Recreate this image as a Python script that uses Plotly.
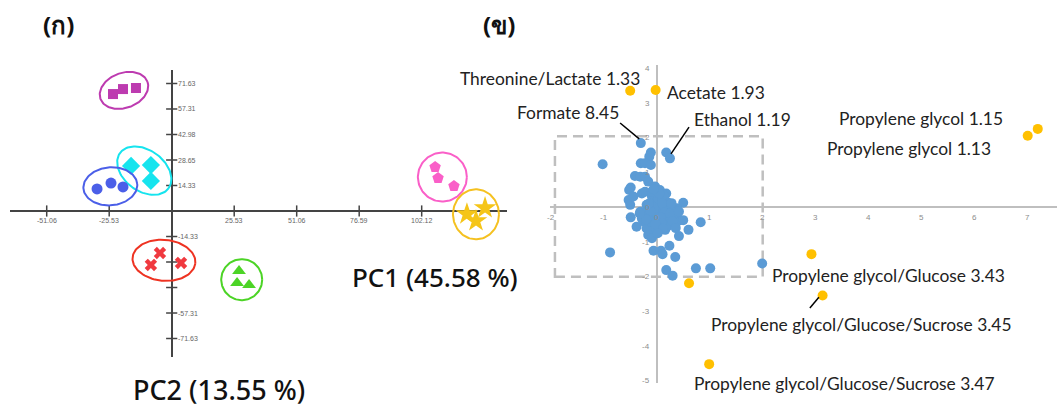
import numpy as np
import plotly.graph_objects as go

W, H = 1057, 412

# ---------------- (ก) PCA score plot: PC1 vs PC2, three replicates per group
score_magenta_x = [-23.98, -19.9, -14.6]
score_magenta_y = [65.7, 68.5, 69.1]
score_cyan_x = [-16.6, -8.5, -8.5]
score_cyan_y = [25.3, 25.8, 16.9]
score_blue_x = [-30.5, -24.8, -19.9]
score_blue_y = [12.4, 15.7, 13.5]
score_red_x = [-4.8, -8.5, 3.8]
score_red_y = [-23.6, -30.3, -29.2]
score_green_x = [27.5, 26.7, 31.6]
score_green_y = [-33.7, -40.4, -41.6]
score_pink_x = [107.6, 108.8, 115.3]
score_pink_y = [24.7, 18.5, 14.0]
score_yellow_x = [120.6, 128.0, 124.3]
score_yellow_y = [-1.7, 1.7, -5.6]

score_xticks = [-51.06, -25.53, 25.53, 51.06, 76.59, 102.12]
score_yticks = [71.63, 57.31, 42.98, 28.65, 14.33, -14.33, -28.65, -42.98, -57.31, -71.63]
score_ylabels = ["71.63", "57.31", "42.98", "28.65", "14.33", "-14.33", "", "", "-57.31", "-71.63"]

# ---------------- (ข) loading plot
load_blue_x = [-0.30, 0.18, 0.25, -0.11, -0.14, -1.02, -0.30, -0.22, -0.11, -0.41,
               -0.31, -0.22, -0.16, -0.49, -0.52, -0.53, -0.50, -0.44, -0.28, -0.22,
               -0.03, 0.06, 0.18, 0.00, -0.09, 0.09, -0.19, 0.50, -0.31, -0.49,
               -0.38, -0.25, -0.09, 0.06, 0.22, 0.31, 0.38, 0.44, 0.50, 0.35,
               0.25, 0.16, 0.00, -0.09, -0.19, -0.16, -0.09, 0.42, 0.60, 0.83,
               0.24, -0.06, 0.08, 0.11, 0.35, -0.88, 0.18, 0.74, 1.01, 0.30,
               -0.03, 0.06, -0.06, 0.13, 0.19, 0.28, 0.38, -0.13, 0.00, 0.13,
               0.06, 0.22, -0.22, -0.28, 0.00, -0.09, 0.13, 1.99, 0.03, 0.10,
               -0.05, 0.15, 0.25, 0.32, 0.08, -0.12, 0.20, 0.30, 0.10, -0.02,
               0.42, 0.28, -0.15, 0.05, -0.20, 0.12, 0.36, -0.06, 0.02, -0.32]
load_blue_y = [1.85, 1.58, 1.41, 1.58, 1.46, 1.24, 1.27, 1.27, 1.22, 0.90,
               0.88, 0.88, 0.74, 0.57, 0.50, 0.21, 0.07, 0.31, 0.40, 0.45,
               0.60, 0.50, 0.40, 0.40, 0.31, 0.26, 0.07, 0.13, -0.13, -0.29,
               -0.56, -0.41, -0.27, -0.22, -0.08, -0.08, -0.27, -0.37, -0.37, -0.51,
               -0.46, -0.65, -0.61, -0.65, -0.61, -0.80, -0.89, -0.83, -0.65, -0.43,
               -1.11, -1.25, -1.25, -1.35, -1.43, -1.30, -1.81, -1.76, -1.76, -1.97,
               0.02, -0.08, -0.17, 0.07, 0.16, 0.02, -0.03, -0.41, -0.37, -0.37,
               -0.51, -0.27, -0.17, -0.32, 0.16, 0.45, 0.36, -1.62, 0.25, 0.12,
               -0.05, -0.15, -0.18, -0.20, -0.30, -0.10, -0.55, -0.40, -0.45, -0.48,
               -0.12, 0.12, 0.10, 0.40, -0.35, -0.62, -0.60, 0.52, -0.75, -0.18]
load_orange_x = [-0.50, -0.02, 7.19, 7.00, 2.92, 3.13, 0.99, 0.61]
load_orange_y = [3.36, 3.38, 2.26, 2.06, -1.35, -2.54, -4.52, -2.19]

load_xticks = [-2, -1, 0, 1, 2, 3, 4, 5, 6, 7]
load_yticks = [4, 3, 2, 1, 0, -1, -2, -3, -4, -5]

# metabolite labels: text, left px, centre px
metab_labels = [
    ("Threonine/Lactate 1.33", 458, 78),
    ("Acetate 1.93", 665, 92),
    ("Formate 8.45", 515, 112),
    ("Ethanol 1.19", 692, 119),
    ("Propylene glycol 1.15", 837, 118),
    ("Propylene glycol 1.13", 825, 149),
    ("Propylene glycol/Glucose 3.43", 770, 275),
    ("Propylene glycol/Glucose/Sucrose 3.45", 709, 324),
    ("Propylene glycol/Glucose/Sucrose 3.47", 692, 383),
]

# ---------------- layout geometry (pixels)
L_X0, L_X1, L_Y0, L_Y1 = 10, 507, 70, 357      # score panel extents
L_OX, L_OY, L_SX, L_SY = 171.7, 211, 2.448, 1.78  # origin and px per unit
R_X0, R_X1, R_Y0, R_Y1 = 550, 1057, 65, 383
R_OX, R_OY, R_SX, R_SY = 656.7, 207.3, 53.0, 34.7

lx_range = [(L_X0 - L_OX) / L_SX, (L_X1 - L_OX) / L_SX]
ly_range = [(L_OY - L_Y1) / L_SY, (L_OY - L_Y0) / L_SY]
rx_range = [(R_X0 - R_OX) / R_SX, (R_X1 - R_OX) / R_SX]
ry_range = [(R_OY - R_Y1) / R_SY, (R_OY - R_Y0) / R_SY]


def ellipse(xs, ys, a_px, b_px, ang_deg, sx, sy):
    cx, cy = np.mean(xs), np.mean(ys)
    t = np.linspace(0, 2 * np.pi, 120)
    th = np.radians(ang_deg)
    u, v = a_px * np.cos(t), b_px * np.sin(t)
    X = u * np.cos(th) - v * np.sin(th)
    Y = u * np.sin(th) + v * np.cos(th)
    return cx + X / sx, cy + Y / sy


fig = go.Figure()

# axis tick marks of the score panel
fig.add_trace(go.Scatter(x=score_xticks, y=[0] * len(score_xticks), mode="markers",
                         marker=dict(symbol="line-ns", size=8, line=dict(color="#444", width=1.5)),
                         xaxis="x", yaxis="y", hoverinfo="skip"))
fig.add_trace(go.Scatter(x=[0] * len(score_yticks), y=score_yticks, mode="markers",
                         marker=dict(symbol="line-ew", size=8, line=dict(color="#444", width=1.5)),
                         xaxis="x", yaxis="y", hoverinfo="skip"))

groups = [
    (score_magenta_x, score_magenta_y, "square", 10, "#BD3BB0", "#BD3BB0", (25, 17.5, 20)),
    (score_cyan_x, score_cyan_y, "diamond", 14, "#16E4EE", "#16E4EE", (30, 20.5, -36)),
    (score_blue_x, score_blue_y, "circle", 11, "#4B5FE8", "#4B5FE8", (27, 19, 5)),
    (score_red_x, score_red_y, "x", 11, "#F0393F", "#EE3322", (31.5, 20.5, -5)),
    (score_green_x, score_green_y, "triangle-up", 12, "#4CD426", "#4CD426", (20.5, 20.5, 0)),
    (score_pink_x, score_pink_y, "pentagon", 12, "#FA5FC8", "#FA5FC8", (24.5, 24.5, 0)),
    (score_yellow_x, score_yellow_y, "star", 17, "#F5C518", "#F5C120", (23, 25, 0)),
]
for gx, gy, sym, size, col, ecol, (a, b, ang) in groups:
    ex, ey = ellipse(gx, gy, a, b, ang, L_SX, L_SY)
    fig.add_trace(go.Scatter(x=ex, y=ey, mode="lines", line=dict(color=ecol, width=2),
                             xaxis="x", yaxis="y", hoverinfo="skip"))
    fig.add_trace(go.Scatter(x=gx, y=gy, mode="markers",
                             marker=dict(symbol=sym, size=size, color=col, line=dict(width=0)),
                             xaxis="x", yaxis="y"))

# loading points
fig.add_trace(go.Scatter(x=load_blue_x, y=load_blue_y, mode="markers",
                         marker=dict(size=10, color="#5B9BD5", line=dict(width=0)),
                         xaxis="x2", yaxis="y2"))
fig.add_trace(go.Scatter(x=load_orange_x, y=load_orange_y, mode="markers",
                         marker=dict(size=10, color="#FFC000", line=dict(width=0)),
                         xaxis="x2", yaxis="y2"))

ann = []
tick_font_l = dict(family="Liberation Sans, Arial", size=7, color="#666666")
for v in score_xticks:
    ann.append(dict(x=v, y=0, xref="x", yref="y", text=f"{v:.2f}", showarrow=False,
                    yshift=-9, font=tick_font_l))
for v, t in zip(score_yticks, score_ylabels):
    if t:
        ann.append(dict(x=0, y=v, xref="x", yref="y", text=t, showarrow=False,
                        xanchor="left", xshift=4, font=tick_font_l))

tick_font_r = dict(family="Liberation Sans, Arial", size=8, color="#8C8C8C")
for v in load_xticks:
    ann.append(dict(x=v, y=0, xref="x2", yref="y2", text=str(v), showarrow=False,
                    yshift=-10, font=tick_font_r))
for v in load_yticks:
    ann.append(dict(x=0, y=v, xref="x2", yref="y2", text=str(v), showarrow=False,
                    xanchor="right", xshift=-5, font=tick_font_r))

label_font = dict(family="Lato, Noto Sans, sans-serif", size=17.4, color="#222")
for text, px, py in metab_labels:
    ann.append(dict(x=px / W, y=1 - py / H, xref="paper", yref="paper", text=text,
                    showarrow=False, xanchor="left", yanchor="middle", font=label_font))

title_font = dict(family="Noto Sans, DejaVu Sans, sans-serif", size=24, color="#111")
ann.append(dict(x=41 / W, y=1 - 25 / H, xref="paper", yref="paper", text="<b>(ก)</b>",
                showarrow=False, xanchor="left", yanchor="middle", font=title_font))
ann.append(dict(x=481 / W, y=1 - 25 / H, xref="paper", yref="paper", text="<b>(ข)</b>",
                showarrow=False, xanchor="left", yanchor="middle", font=title_font))
ann.append(dict(x=350 / W, y=1 - 277 / H, xref="paper", yref="paper", text="PC1 (45.58 %)",
                showarrow=False, xanchor="left", yanchor="middle",
                font=dict(family="Noto Sans, sans-serif", size=26, color="#111", weight=500)))
ann.append(dict(x=131 / W, y=0.004, xref="paper", yref="paper", text="PC2 (13.55 %)",
                showarrow=False, xanchor="left", yanchor="bottom",
                font=dict(family="Noto Sans, sans-serif", size=27, color="#111", weight=500)))

shapes = [
    dict(type="rect", xref="x2", yref="y2", x0=-1.92, x1=2.0, y0=-2.0, y1=2.05,
         line=dict(color="#BFBFBF", width=2.5, dash="10px,6px"), layer="below"),
    # leader lines
    dict(type="line", xref="x2", yref="y2", x0=-0.69, y0=2.43, x1=-0.33, y1=1.97,
         line=dict(color="black", width=1.5)),
    dict(type="line", xref="x2", yref="y2", x0=0.61, y0=2.31, x1=0.27, y1=1.54,
         line=dict(color="black", width=1.5)),
    dict(type="line", xref="x2", yref="y2", x0=2.89, y0=-2.90, x1=3.06, y1=-2.59,
         line=dict(color="black", width=1.5)),
]

axis_common = dict(showgrid=False, showticklabels=False, showline=False, ticks="",
                   zeroline=True)
fig.update_layout(
    width=W, height=H, margin=dict(l=0, r=0, t=0, b=0),
    paper_bgcolor="white", plot_bgcolor="rgba(0,0,0,0)", showlegend=False,
    xaxis=dict(domain=[L_X0 / W, L_X1 / W], range=lx_range, anchor="y",
               zerolinecolor="#444", zerolinewidth=1.5, **axis_common),
    yaxis=dict(domain=[1 - L_Y1 / H, 1 - L_Y0 / H], range=ly_range, anchor="x",
               zerolinecolor="#444", zerolinewidth=1.5, **axis_common),
    xaxis2=dict(domain=[R_X0 / W, R_X1 / W], range=rx_range, anchor="y2",
                zerolinecolor="#BFBFBF", zerolinewidth=1.5, **axis_common),
    yaxis2=dict(domain=[1 - R_Y1 / H, 1 - R_Y0 / H], range=ry_range, anchor="x2",
                zerolinecolor="#BFBFBF", zerolinewidth=1.5, **axis_common),
    annotations=ann, shapes=shapes,
)

fig.write_html("out.html")
